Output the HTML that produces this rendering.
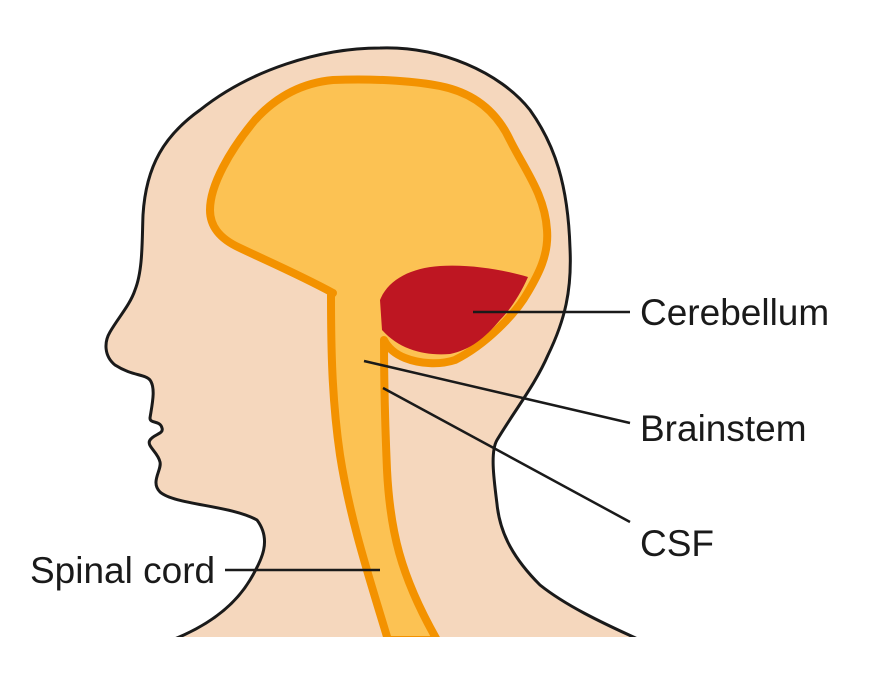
<!DOCTYPE html>
<html><head><meta charset="utf-8"><style>
html,body{margin:0;padding:0;background:#fff;}
svg{display:block;}
text{font-family:"Liberation Sans",sans-serif;font-size:37px;fill:#1a1a1a;}
</style></head><body>
<svg width="869" height="681" viewBox="0 0 869 681" xmlns="http://www.w3.org/2000/svg">
<defs><clipPath id="c"><rect x="0" y="0" width="869" height="637"/></clipPath></defs>
<g clip-path="url(#c)">
<path d="M172,640 C210,625 235,605 250,580 C262,560 272,540 257,520 C230,505 175,505 160,492 C150,482 162,470 160,462 C158,452 146,446 150,440 C154,434 164,434 162,428 C160,420 150,424 150,418 C152,405 156,388 150,380 C145,374 132,376 115,365 C104,356 104,342 110,332 C118,318 130,305 135,290 C143,270 142,240 143,215 C146,165 165,135 200,110 C250,70 320,48 380,48 C440,46 500,72 530,110 C555,145 568,185 570,248 C572,290 565,320 548,355 C535,385 515,410 497,440 C490,452 494,480 497,504 C500,535 515,560 540,585 C565,605 600,622 640,640 Z" fill="#F5D7BD" stroke="#1a1a1a" stroke-width="3"/>
<path d="M333,293 C300,275 265,260 240,248 C218,238 210,225 210,210 C210,185 230,150 255,120 C275,98 300,83 333,80 C380,78 420,82 440,86 C470,92 495,108 510,140 C525,170 545,195 547,230 C549,255 538,275 528,292 C515,315 485,345 455,360 C440,365 420,364 405,358 C395,354 388,348 384,340 C384,360 384,400 387,470 C390,530 400,575 437,640 L388,640 C370,580 350,520 340,455 C332,400 331,350 331,295 Z" fill="#FCC253" stroke="#F39200" stroke-width="8" stroke-linejoin="round"/>
<path d="M380,300 C388,280 410,268 440,266 C470,264 505,270 528,277 C520,295 510,310 500,320 C485,338 470,350 450,354 C425,356 400,350 382,330 Z" fill="#BE1622"/>
</g>
<g stroke="#1a1a1a" stroke-width="2.5" fill="none">
<line x1="473" y1="312" x2="630" y2="312"/>
<line x1="364" y1="361" x2="630" y2="423"/>
<line x1="383" y1="388" x2="630" y2="522"/>
<line x1="225" y1="570" x2="380" y2="570"/>
</g>
<text x="640" y="325">Cerebellum</text>
<text x="640" y="441">Brainstem</text>
<text x="640" y="556">CSF</text>
<text x="30" y="583">Spinal cord</text>
</svg>
</body></html>
